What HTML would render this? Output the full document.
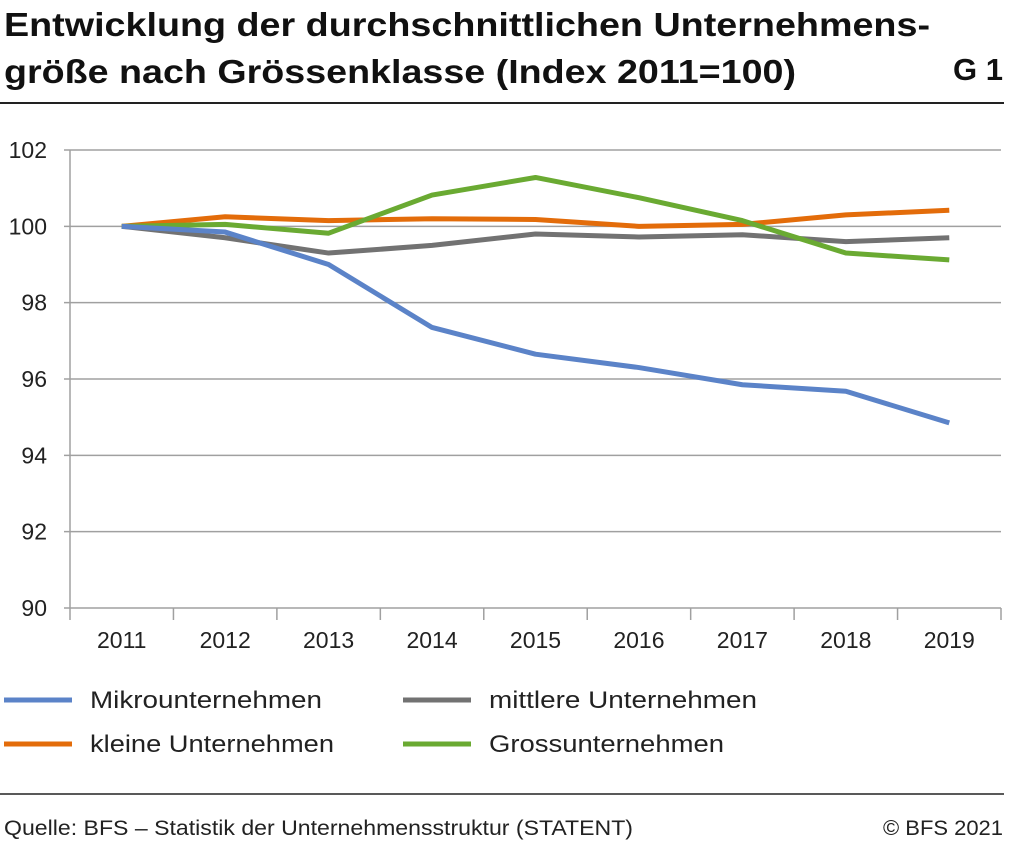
<!DOCTYPE html>
<html><head><meta charset="utf-8"><style>
body{margin:0;background:#fff;font-family:"Liberation Sans",sans-serif;}
svg{display:block}
</style></head><body>
<svg width="1009" height="842" xmlns="http://www.w3.org/2000/svg">
<text x="4" y="36" font-size="33" font-weight="bold" fill="#111" textLength="926" lengthAdjust="spacingAndGlyphs">Entwicklung der durchschnittlichen Unternehmens-</text>
<text x="4" y="83" font-size="33" font-weight="bold" fill="#111" textLength="792" lengthAdjust="spacingAndGlyphs">größe nach Grössenklasse (Index 2011=100)</text>
<text x="1003" y="80" font-size="31" font-weight="bold" fill="#111" text-anchor="end">G 1</text>
<line x1="0" y1="103" x2="1004" y2="103" stroke="#222" stroke-width="2"/>
<g id="grid"></g>
<g id="axes"></g>
<g id="series"></g>
<g>
<g><line x1="4" y1="700" x2="72" y2="700" stroke="#5b83c8" stroke-width="5"/><text x="90" y="708" font-size="24" fill="#222" textLength="232" lengthAdjust="spacingAndGlyphs">Mikrounternehmen</text></g>
<g><line x1="403" y1="700" x2="471" y2="700" stroke="#727272" stroke-width="5"/><text x="489" y="708" font-size="24" fill="#222" textLength="268" lengthAdjust="spacingAndGlyphs">mittlere Unternehmen</text></g>
<g><line x1="4" y1="744" x2="72" y2="744" stroke="#e36c0a" stroke-width="5"/><text x="90" y="752" font-size="24" fill="#222" textLength="244" lengthAdjust="spacingAndGlyphs">kleine Unternehmen</text></g>
<g><line x1="403" y1="744" x2="471" y2="744" stroke="#6aaa32" stroke-width="5"/><text x="489" y="752" font-size="24" fill="#222" textLength="235" lengthAdjust="spacingAndGlyphs">Grossunternehmen</text></g>
</g>
<line x1="0" y1="794" x2="1004" y2="794" stroke="#222" stroke-width="1.5"/>
<text x="4" y="835" font-size="21" fill="#222" textLength="629" lengthAdjust="spacingAndGlyphs">Quelle: BFS – Statistik der Unternehmensstruktur (STATENT)</text>
<text x="1003" y="835" font-size="21" fill="#222" text-anchor="end" textLength="120" lengthAdjust="spacingAndGlyphs">© BFS 2021</text>
</svg>
<script>
const categories=["2011","2012","2013","2014","2015","2016","2017","2018","2019"];
const yTicks=[90,92,94,96,98,100,102];
const mikro=[100,99.85,99.0,97.35,96.65,96.3,95.85,95.68,94.85];
const kleine=[100,100.25,100.15,100.2,100.18,100.0,100.05,100.3,100.42];
const mittlere=[100,99.7,99.3,99.5,99.8,99.72,99.78,99.6,99.7];
const gross=[100,100.05,99.82,100.82,101.28,100.75,100.15,99.3,99.12];
const NS="http://www.w3.org/2000/svg";
const L=70,R=1001,T=150,B=608,yMin=90,yMax=102;
const step=(R-L)/categories.length;
const xs=i=>L+step*(i+0.5);
const ys=v=>B-(v-yMin)/(yMax-yMin)*(B-T);
function mk(tag,at,parent){const e=document.createElementNS(NS,tag);for(const k in at)e.setAttribute(k,at[k]);parent.appendChild(e);return e;}
const grid=document.getElementById('grid'),axes=document.getElementById('axes'),ser=document.getElementById('series');
yTicks.forEach(v=>{
 const l=mk('line',{x1:64,x2:R,y1:ys(v),y2:ys(v),stroke:'#a0a0a0','stroke-width':1.5},grid);
 
 
 const t=mk('text',{x:47,y:ys(v)+8,'font-size':23,fill:'#222','text-anchor':'end'},axes);
 t.textContent=v;
 
 
});
const ya=mk('line',{x1:L,x2:L,y1:T,y2:B,stroke:'#a0a0a0','stroke-width':1.5},axes);


for(let i=0;i<=categories.length;i++){
 const x=L+step*i;
 const tk=mk('line',{x1:x,x2:x,y1:B,y2:B+12,stroke:'#a0a0a0','stroke-width':1.5},axes);
 
 
}
categories.forEach((c,i)=>{
 const t=mk('text',{x:xs(i),y:648,'font-size':23,fill:'#222','text-anchor':'middle'},axes);
 t.textContent=c;
 
 
});
[[mittlere,'#727272','mittlere'],[kleine,'#e36c0a','kleine'],[gross,'#6aaa32','gross'],[mikro,'#5b83c8','mikro']].forEach(([d,c,n])=>{
 const p=mk('polyline',{points:d.map((v,i)=>xs(i)+','+ys(v)).join(' '),fill:'none',stroke:c,'stroke-width':5,'stroke-linejoin':'round'},ser);
 
 
});
</script>
</body></html>
